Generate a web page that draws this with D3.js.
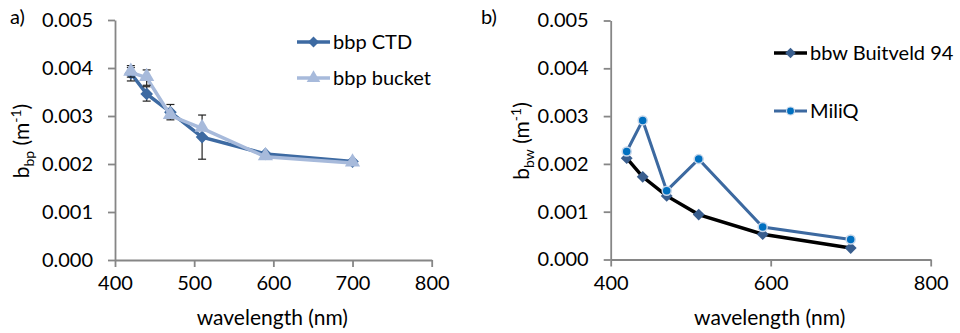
<!DOCTYPE html>
<html>
<head>
<meta charset="utf-8">
<script src="https://cdn.jsdelivr.net/npm/d3@7/dist/d3.min.js"></script>
<style>
  html, body { margin: 0; padding: 0; background: #fff; }
  svg { display: block; font-family: Lato, "Open Sans", sans-serif; }
</style>
</head>
<body>
<svg id="chart" width="960" height="333"></svg>
<script>
// ---- data ----
const wavelengths = [420, 440, 470, 510, 590, 700];
const bbpCTD      = [0.00389, 0.00346, 0.00308, 0.00256, 0.00221, 0.00205];
const bbpCTDErr   = [0.00016, 0.00015, 0.00016, 0.00046, 0.00002, 0.00002];
const bbpBucket   = [0.00391, 0.00380, 0.00301, 0.00274, 0.00215, 0.00202];
const bbpBucketErr= [0.00010, 0.00016, 0.00000, 0.00000, 0.00000, 0.00000];
const bbwBuitveld = [0.00212, 0.00173, 0.00133, 0.00094, 0.00053, 0.00024];
const bbwMiliQ    = [0.00226, 0.00291, 0.00144, 0.00210, 0.00068, 0.00042];
const yTicks      = [0, 0.001, 0.002, 0.003, 0.004, 0.005];
const xTicksA     = [400, 500, 600, 700, 800];
const xTicksB     = [400, 600, 800];
const seriesNamesA = ["bbp CTD", "bbp bucket"];
const seriesNamesB = ["bbw Buitveld 94", "MiliQ"];

const svg = d3.select("#chart");
const axisColor = "#868686";
const fs = 20;
const fsTitle = 21;

function drawPanel(opt) {
  const g = svg.append("g");
  const x = d3.scaleLinear().domain([400, 800]).range([opt.x0, opt.x1]);
  const y = d3.scaleLinear().domain([0, 0.005]).range([opt.y0, opt.y1]);

  const yAxis = g.append("g").attr("transform", `translate(${opt.x0},0)`)
    .call(d3.axisLeft(y).tickValues(yTicks).tickFormat(d3.format(".3f")).tickSize(7).tickSizeOuter(0).tickPadding(15));
  const xAxis = g.append("g").attr("transform", `translate(0,${opt.y0})`)
    .call(d3.axisBottom(x).tickValues(opt.xTicks).tickFormat(d3.format("d")).tickSize(7).tickSizeOuter(0).tickPadding(9));
  [yAxis, xAxis].forEach(a => {
    a.selectAll("path, line").attr("stroke", axisColor).attr("stroke-width", 1.8);
    a.selectAll("text").attr("fill", "#000").style("font-size", fs + "px").style("font-family", "Lato, sans-serif");
  });

  // axis titles
  g.append("text").attr("x", (opt.x0 + opt.x1) / 2 - 1).attr("y", 325)
    .attr("text-anchor", "middle").style("font-size", fsTitle + "px").text("wavelength (nm)");
  const yl = g.append("text")
    .attr("transform", `translate(${opt.ylx},141) rotate(-90)`)
    .attr("text-anchor", "middle").style("font-size", fsTitle + "px");
  yl.append("tspan").text("b");
  yl.append("tspan").attr("dy", 5).style("font-size", "14px").text(opt.sub);
  yl.append("tspan").attr("dy", -5).text(" (m");
  yl.append("tspan").attr("dy", -8).style("font-size", "14px").text("-1");
  yl.append("tspan").attr("dy", 8).text(")");

  g.append("text").attr("x", opt.labX).attr("y", 24).style("font-size", fs + "px").text(opt.label);
  return { g, x, y };
}

// diamond = square rotated 45 degrees
const square = d3.symbol().type(d3.symbolSquare);
const triangle = d3.symbol().type(d3.symbolTriangle);

// ---- panel a ----
const A = drawPanel({ x0: 115, x1: 431.7, y0: 260, y1: 20, xTicks: xTicksA, sub: "bp", ylx: 29, label: "a)", labX: 10 });
const lineA = d3.line().x((d, i) => A.x(wavelengths[i])).y(d => A.y(d));
const ctdColor = "#3D6AA2", bucketColor = "#A7BADB";

function errBars(P, vals, errs) {
  vals.forEach((v, i) => {
    if (!errs[i]) return;
    const cx = P.x(wavelengths[i]);
    const t = P.y(v + errs[i]), b = P.y(v - errs[i]);
    P.g.append("line").attr("x1", cx).attr("x2", cx).attr("y1", t).attr("y2", b).attr("stroke", "#222").attr("stroke-width", 1.2);
    [t, b].forEach(yy => P.g.append("line").attr("x1", cx - 4).attr("x2", cx + 4).attr("y1", yy).attr("y2", yy).attr("stroke", "#222").attr("stroke-width", 1.2));
  });
}

A.g.append("path").attr("d", lineA(bbpCTD)).attr("fill", "none").attr("stroke", ctdColor).attr("stroke-width", 3.5);
errBars(A, bbpCTD, bbpCTDErr);
A.g.selectAll(".dA").data(bbpCTD).enter().append("path")
  .attr("d", square.size(80)()).attr("transform", (d, i) => `translate(${A.x(wavelengths[i])},${A.y(d)}) rotate(45)`)
  .attr("fill", ctdColor);
A.g.append("path").attr("d", lineA(bbpBucket)).attr("fill", "none").attr("stroke", bucketColor).attr("stroke-width", 3.5);
errBars(A, bbpBucket, bbpBucketErr);
A.g.selectAll(".tA").data(bbpBucket).enter().append("path")
  .attr("d", triangle.size(100)()).attr("transform", (d, i) => `translate(${A.x(wavelengths[i])},${A.y(d) - 1})`)
  .attr("fill", bucketColor);

// legend a
const legA = [{ y: 42, c: ctdColor, m: square.size(60)(), r: 45 }, { y: 78, c: bucketColor, m: triangle.size(80)(), r: 0 }];
legA.forEach((l, i) => {
  svg.append("line").attr("x1", 297).attr("x2", 330).attr("y1", l.y).attr("y2", l.y).attr("stroke", l.c).attr("stroke-width", 3.5);
  svg.append("path").attr("d", l.m).attr("transform", `translate(313.5,${l.y}) rotate(${l.r})`).attr("fill", l.c);
  svg.append("text").attr("x", 333).attr("y", l.y + 7).style("font-size", fs + "px").text(seriesNamesA[i]);
});

// ---- panel b ----
const B = drawPanel({ x0: 610.7, x1: 930.7, y0: 259.5, y1: 20.5, xTicks: xTicksB, sub: "bw", ylx: 529, label: "b)", labX: 481 });
const lineB = d3.line().x((d, i) => B.x(wavelengths[i])).y(d => B.y(d));
const buitColor = "#000", diaColor = "#395E8E", miliColor = "#3C69A0", dotColor = "#0070C0", dotStroke = "#C6D6EA";

B.g.append("path").attr("d", lineB(bbwBuitveld)).attr("fill", "none").attr("stroke", buitColor).attr("stroke-width", 3.5);
B.g.selectAll(".dB").data(bbwBuitveld).enter().append("path")
  .attr("d", square.size(70)()).attr("transform", (d, i) => `translate(${B.x(wavelengths[i])},${B.y(d)}) rotate(45)`)
  .attr("fill", diaColor);
B.g.append("path").attr("d", lineB(bbwMiliQ)).attr("fill", "none").attr("stroke", miliColor).attr("stroke-width", 3);
B.g.selectAll(".cB").data(bbwMiliQ).enter().append("circle")
  .attr("cx", (d, i) => B.x(wavelengths[i])).attr("cy", d => B.y(d)).attr("r", 4.5)
  .attr("fill", dotColor).attr("stroke", dotStroke).attr("stroke-width", 1.5);

// legend b
[{ y: 53, c: buitColor }, { y: 111, c: miliColor }].forEach((l, i) => {
  svg.append("line").attr("x1", 774).attr("x2", 807).attr("y1", l.y).attr("y2", l.y).attr("stroke", l.c).attr("stroke-width", i ? 3 : 3.5);
  if (i === 0) svg.append("path").attr("d", square.size(55)()).attr("transform", `translate(790.5,${l.y}) rotate(45)`).attr("fill", diaColor);
  else svg.append("circle").attr("cx", 790.5).attr("cy", l.y).attr("r", 4).attr("fill", dotColor).attr("stroke", dotStroke).attr("stroke-width", 1.2);
  svg.append("text").attr("x", 810).attr("y", l.y + 7).style("font-size", fs + "px").text(seriesNamesB[i]);
});
</script>
</body>
</html>
